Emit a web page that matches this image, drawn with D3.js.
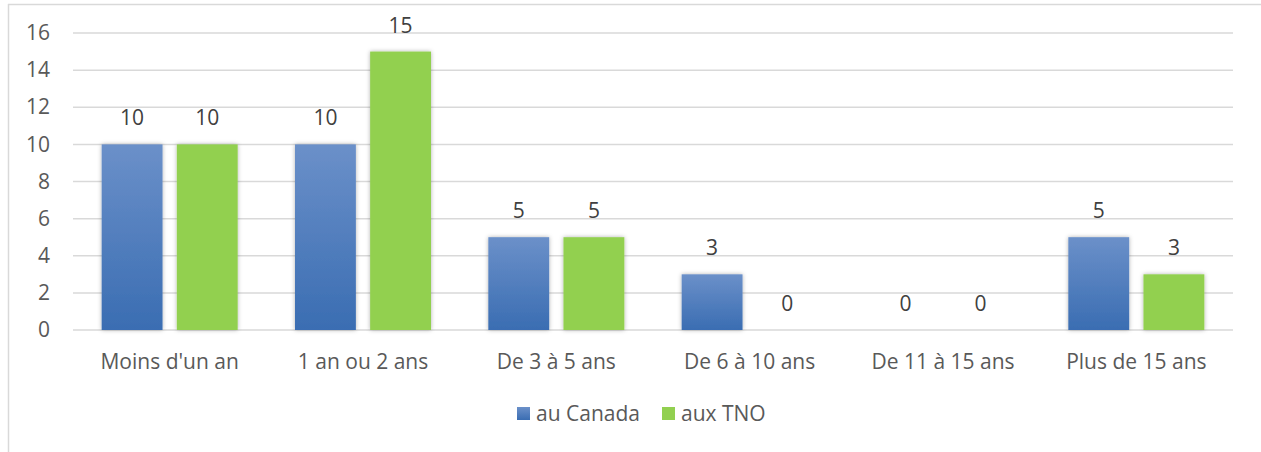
<!DOCTYPE html>
<html>
<head>
<meta charset="utf-8">
<script src="https://cdn.jsdelivr.net/npm/d3@7"></script>
<style>
  body { margin: 0; background: #fff; }
  svg { display: block; font-family: "Open Sans", Lato, sans-serif; }
</style>
</head>
<body>
<div id="chart"></div>
<script>
const categories = ['Moins d\'un an', '1 an ou 2 ans', 'De 3 à 5 ans', 'De 6 à 10 ans', 'De 11 à 15 ans', 'Plus de 15 ans'];
const seriesNames = ['au Canada', 'aux TNO'];
const canadaValues = [10, 10, 5, 3, 0, 5];
const tnoValues = [10, 15, 5, 0, 0, 3];
const yTicks = [0, 2, 4, 6, 8, 10, 12, 14, 16];

const width = 1261;
const height = 452;
const margin = { top: 33, right: 28, bottom: 122, left: 73 };
const fontSize = 21;
const fontFamily = '"Open Sans", Lato, sans-serif';

const svg = d3.select('#chart').append('svg')
  .attr('width', width)
  .attr('height', height);

const defs = svg.append('defs');
const grad = defs.append('linearGradient')
  .attr('id', 'blueGrad')
  .attr('x1', 0).attr('y1', 0).attr('x2', 0).attr('y2', 1);
grad.append('stop').attr('offset', '0%').attr('stop-color', '#6b90c9');
grad.append('stop').attr('offset', '100%').attr('stop-color', '#3a6db2');

const shadow = defs.append('filter')
  .attr('id', 'barShadow')
  .attr('x', '-20%').attr('y', '-10%').attr('width', '140%').attr('height', '120%');
shadow.append('feDropShadow')
  .attr('dx', 0).attr('dy', 0).attr('stdDeviation', 2)
  .attr('flood-color', '#000').attr('flood-opacity', 0.3);

// chart frame
svg.append('line')
  .attr('x1', 8.5).attr('x2', 8.5).attr('y1', 4).attr('y2', height)
  .attr('stroke', '#d9d9d9').attr('stroke-width', 1.5);
svg.append('line')
  .attr('x1', 8).attr('x2', width).attr('y1', 4.5).attr('y2', 4.5)
  .attr('stroke', '#d9d9d9').attr('stroke-width', 1.5);

const x0 = d3.scaleBand()
  .domain(categories)
  .range([margin.left, width - margin.right]);

const x1 = d3.scaleBand()
  .domain(seriesNames)
  .range([0, 136])
  .paddingInner(0.19);

const y = d3.scaleLinear()
  .domain([0, 16])
  .range([height - margin.bottom, margin.top]);

// gridlines
svg.append('g')
  .selectAll('line')
  .data(yTicks)
  .join('line')
  .attr('x1', margin.left)
  .attr('x2', width - margin.right)
  .attr('y1', (d) => y(d))
  .attr('y2', (d) => y(d))
  .attr('stroke', '#d9d9d9')
  .attr('stroke-width', 1.5);

// y axis labels
const yAxis = svg.append('g')
  .attr('transform', `translate(${margin.left}, 0)`)
  .call(d3.axisLeft(y).tickValues(yTicks).tickSize(0).tickPadding(23));
yAxis.select('.domain').remove();
yAxis.selectAll('text')
  .attr('font-size', fontSize)
  .attr('font-family', fontFamily)
  .attr('fill', '#595959');

// x axis labels
const xAxis = svg.append('g')
  .attr('transform', `translate(0, ${y(0)})`)
  .call(d3.axisBottom(x0).tickSize(0).tickPadding(24));
xAxis.select('.domain').remove();
xAxis.selectAll('text')
  .attr('font-size', fontSize)
  .attr('font-family', fontFamily)
  .attr('fill', '#595959');

const rows = categories.map((c, i) => ({
  category: c,
  values: [
    { series: seriesNames[0], value: canadaValues[i] },
    { series: seriesNames[1], value: tnoValues[i] },
  ],
}));
const fills = { 'au Canada': 'url(#blueGrad)', 'aux TNO': '#92d050' };

const groups = svg.append('g')
  .selectAll('g')
  .data(rows)
  .join('g')
  .attr('transform', (d) => `translate(${x0(d.category) + x0.bandwidth() / 2 - 68}, 0)`);

groups.selectAll('rect')
  .data((d) => d.values.filter((v) => v.value > 0))
  .join('rect')
  .attr('x', (d) => x1(d.series))
  .attr('y', (d) => y(d.value))
  .attr('width', x1.bandwidth())
  .attr('height', (d) => y(0) - y(d.value))
  .attr('fill', (d) => fills[d.series])
  .attr('filter', 'url(#barShadow)');

groups.selectAll('text')
  .data((d) => d.values)
  .join('text')
  .attr('x', (d) => x1(d.series) + x1.bandwidth() / 2)
  .attr('y', (d) => y(d.value) - 19)
  .attr('text-anchor', 'middle')
  .attr('font-size', fontSize)
  .attr('fill', '#404040')
  .text((d) => d.value);

// legend
const legend = svg.append('g').attr('transform', 'translate(517, 407)');
const legendItems = legend.selectAll('g')
  .data(seriesNames)
  .join('g')
  .attr('transform', (d, i) => `translate(${i * 145}, 0)`);
legendItems.append('rect')
  .attr('width', 13).attr('height', 13)
  .attr('fill', (d) => fills[d]);
legendItems.append('text')
  .attr('x', 19).attr('y', 14)
  .attr('font-size', fontSize)
  .attr('fill', '#595959')
  .text((d) => d);
</script>
</body>
</html>
